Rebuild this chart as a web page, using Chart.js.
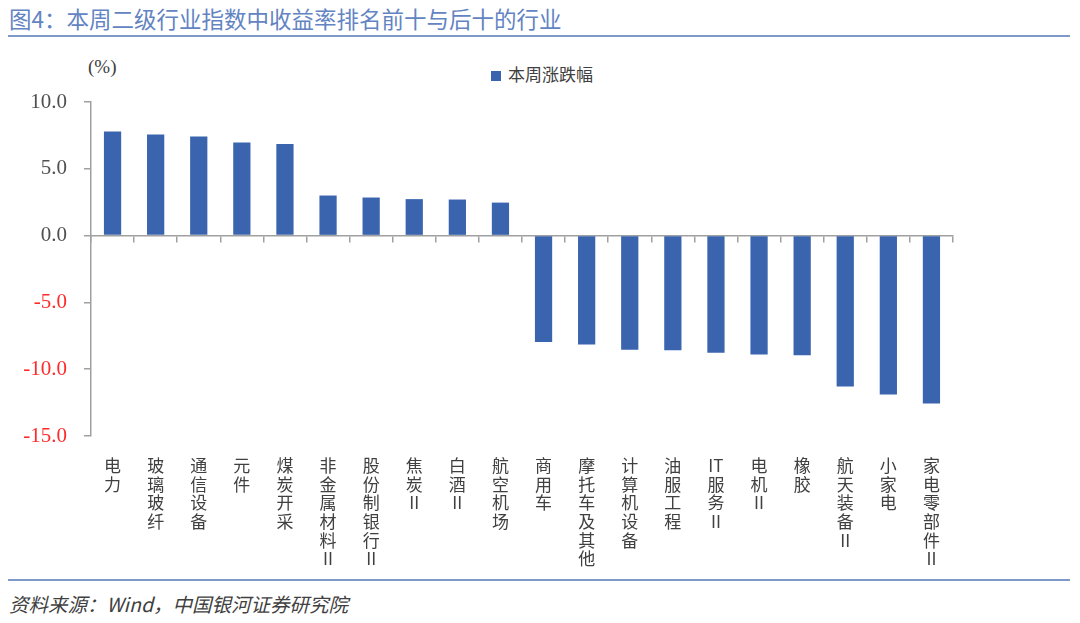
<!DOCTYPE html>
<html><head><meta charset="utf-8">
<script src="https://cdn.jsdelivr.net/npm/chart.js@4"></script>
<style>
html,body{margin:0;padding:0;background:#fff;width:1080px;height:623px;overflow:hidden;position:relative;font-family:"Noto Sans CJK SC",sans-serif;}
#title{position:absolute;left:9px;top:2px;font-size:22.5px;color:#6384c2;white-space:nowrap;}
.rule{position:absolute;left:8px;width:1062px;height:2px;background:#7f9ac9;}
#src{position:absolute;left:9px;top:589px;font-size:19.5px;color:#404040;font-style:italic;white-space:nowrap;}
#unit{position:absolute;left:88px;top:56px;font-family:"Liberation Serif",serif;font-size:19px;color:#404040;}
#leg{position:absolute;left:491px;top:61px;font-size:17px;color:#404040;white-space:nowrap;}
#leg i{display:inline-block;width:10px;height:10px;background:#3a64ae;margin-right:7px;vertical-align:0px;}
canvas{position:absolute;left:0;top:0;}
</style></head>
<body>
<div id="title">图4：本周二级行业指数中收益率排名前十与后十的行业</div>
<div class="rule" style="top:35px"></div>
<div class="rule" style="top:579px"></div>
<div id="src">资料来源：Wind，中国银河证券研究院</div>
<div id="unit">(%)</div>
<div id="leg"><i></i>本周涨跌幅</div>
<canvas id="c" width="1080" height="623"></canvas>
<script>
const categories = [
  ["电","力"],
  ["玻","璃","玻","纤"],
  ["通","信","设","备"],
  ["元","件"],
  ["煤","炭","开","采"],
  ["非","金","属","材","料","II"],
  ["股","份","制","银","行","II"],
  ["焦","炭","II"],
  ["白","酒","II"],
  ["航","空","机","场"],
  ["商","用","车"],
  ["摩","托","车","及","其","他"],
  ["计","算","机","设","备"],
  ["油","服","工","程"],
  ["IT","服","务","II"],
  ["电","机","II"],
  ["橡","胶"],
  ["航","天","装","备","II"],
  ["小","家","电"],
  ["家","电","零","部","件","II"]
];
const weeklyChange = [7.79, 7.57, 7.42, 6.97, 6.85, 3.0, 2.85, 2.73, 2.70, 2.47,
  -7.96, -8.16, -8.55, -8.58, -8.76, -8.90, -8.95, -11.3, -11.9, -12.56];
const seriesName = "本周涨跌幅";
const yTicks = {min: -15, max: 10, step: 5};

const axisGray = '#a0a0a0';
new Chart(document.getElementById('c'), {
  type: 'bar',
  data: {
    labels: categories,
    datasets: [{
      label: seriesName,
      data: weeklyChange,
      backgroundColor: '#3a64ae',
      borderWidth: 0,
      barPercentage: 0.4,
      categoryPercentage: 1.0,
      xAxisID: 'x',
      yAxisID: 'y'
    }]
  },
  options: {
    responsive: false,
    animation: false,
    events: [],
    layout: {padding: {left: 0, right: 127, top: 102, bottom: 0}},
    plugins: {legend: {display: false}, tooltip: {enabled: false}},
    scales: {
      x: {
        type: 'category',
        position: 'bottom',
        offset: true,
        border: {display: false},
        grid: {display: false},
        ticks: {
          autoSkip: false, maxRotation: 0, minRotation: 0,
          padding: 12,
          color: '#404040',
          font: {family: '"Noto Sans CJK SC"', size: 17, lineHeight: 1.1}
        },
        afterFit: s => { s.height = 187; }
      },
      x2: {
        type: 'category',
        labels: categories,
        position: {y: 0},
        offset: true,
        border: {display: true, color: axisGray, width: 1.5},
        grid: {display: true, offset: true, drawOnChartArea: false, drawTicks: true, tickLength: 6, color: axisGray, lineWidth: 1.5},
        ticks: {display: false}
      },
      y: {
        min: yTicks.min, max: yTicks.max,
        border: {display: true, color: axisGray, width: 1.5},
        grid: {drawOnChartArea: false, drawTicks: true, tickLength: 7, color: axisGray, lineWidth: 1.5},
        ticks: {
          stepSize: yTicks.step,
          padding: 17,
          callback: v => Number(v).toFixed(1),
          color: ctx => ctx.tick.value < 0 ? '#ff2a2a' : '#505050',
          font: {family: '"Liberation Serif"', size: 21}
        },
        afterFit: s => { s.width = 91; }
      }
    }
  }
});
</script>
</body></html>
